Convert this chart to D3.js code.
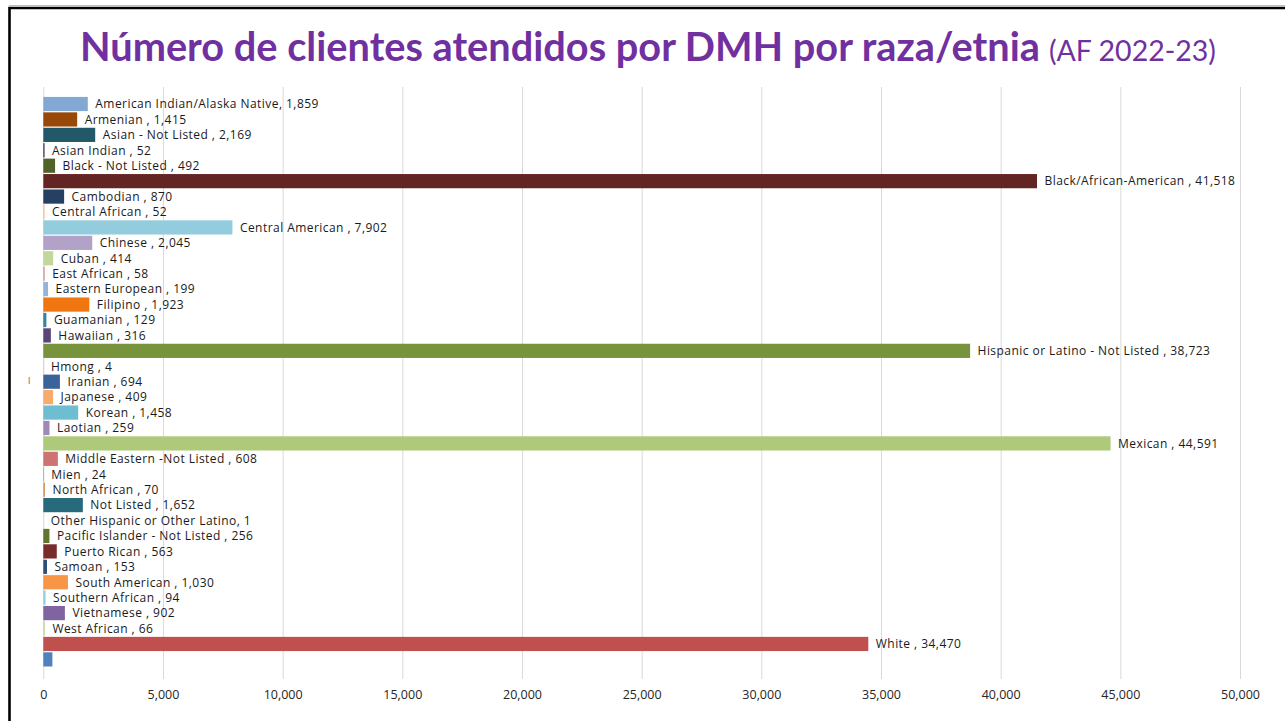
<!DOCTYPE html>
<html>
<head>
<meta charset="utf-8">
<script src="https://cdn.jsdelivr.net/npm/d3@7"></script>
<style>
  html, body { margin: 0; padding: 0; background: #fff; }
  svg { display: block; }
</style>
</head>
<body>
<svg id="chart" width="1285" height="721"></svg>
<script>
// ---------- data ----------
const categories = [
  "American Indian/Alaska Native", "Armenian ", "Asian - Not Listed ", "Asian Indian ",
  "Black - Not Listed ", "Black/African-American ", "Cambodian ", "Central African ",
  "Central American ", "Chinese ", "Cuban ", "East African ", "Eastern European ",
  "Filipino ", "Guamanian ", "Hawaiian ", "Hispanic or Latino - Not Listed ", "Hmong ",
  "Iranian ", "Japanese ", "Korean ", "Laotian ", "Mexican ", "Middle Eastern -Not Listed ",
  "Mien ", "North African ", "Not Listed ", "Other Hispanic or Other Latino", "Pacific Islander - Not Listed ",
  "Puerto Rican ", "Samoan ", "South American ", "Southern African ", "Vietnamese ",
  "West African ", "White ", ""
];
const values = [
  1859, 1415, 2169, 52,
  492, 41518, 870, 52,
  7902, 2045, 414, 58, 199,
  1923, 129, 316, 38723, 4,
  694, 409, 1458, 259, 44591, 608,
  24, 70, 1652, 1, 256,
  563, 153, 1030, 94, 902,
  66, 34470, 380
];
const showLabel = categories.map(c => c !== "");
const barColors = [
  "#84a8d4", "#984807", "#215968", "#3f3151",
  "#4f6228", "#632523", "#254061", "#fac090",
  "#93cddd", "#b3a2c7", "#c3d69b", "#d99694", "#95b3d7",
  "#f0760f", "#36849b", "#5a4578", "#77933c", "#8c3836",
  "#3a6399", "#f9ab6b", "#6fbdd1", "#9f8ab7", "#afc97a", "#cd7371",
  "#729aca", "#d79a62", "#276a7c", "#4d3b62", "#5f7530",
  "#772c2a", "#2c4d75", "#f79646", "#8fd0e0", "#8064a2",
  "#c6d9a0", "#c0504d", "#4f81bd"
];
const xTicks = [0, 5000, 10000, 15000, 20000, 25000, 30000, 35000, 40000, 45000, 50000];
const titleMain = "Número de clientes atendidos por DMH por raza/etnia";
const titleSub = "(AF 2022-23)";

// ---------- layout ----------
const svg = d3.select("#chart");
const x0 = 43.3, x1 = 1240;
const bandTop = 96.3, bandBottom = 667.1;
const gridTop = 87, gridBottom = 679;
const labelFont = "'Open Sans', sans-serif";
const titleFont = "Lato, sans-serif";

const x = d3.scaleLinear().domain([0, 50000]).range([x0, x1]);
const y = d3.scaleBand().domain(d3.range(categories.length)).range([bandTop, bandBottom]).paddingInner(0.08).paddingOuter(0.04);
const fmt = d3.format(",");

// frame
svg.append("path")
  .attr("d", `M9.5,721 L9.5,8 L1285,8`)
  .attr("fill", "none").attr("stroke", "#000").attr("stroke-width", 2.6);
svg.append("line").attr("x1", 9).attr("x2", 1285).attr("y1", 5.5).attr("y2", 5.5)
  .attr("stroke", "#bdbdbd").attr("stroke-width", 1);

// title
const title = svg.append("text").attr("x", 80).attr("y", 61).attr("fill", "#7030a0")
  .style("font-family", titleFont);
const tMain = title.append("tspan").attr("font-weight", 700).attr("font-size", 39).text(titleMain);
const tSub = title.append("tspan").attr("font-weight", 400).attr("font-size", 28).attr("dx", 9).text(titleSub);
(function fit() {
  const w = tMain.node().getComputedTextLength();
  tMain.attr("font-size", 39 * (1040 - 80) / w);
  const w2 = tSub.node().getComputedTextLength();
  tSub.attr("font-size", 28 * (1217 - 1050) / w2);
})();

// grid + axis
const xAxis = d3.axisBottom(x).tickValues(xTicks).tickFormat(fmt).tickSize(-(gridBottom - gridTop)).tickPadding(10);
const gAxis = svg.append("g").attr("transform", `translate(0,${gridBottom})`).call(xAxis);
gAxis.select(".domain").remove();
gAxis.selectAll(".tick line").attr("stroke", "#d9d9d9").attr("stroke-width", 1);
gAxis.selectAll(".tick text").attr("fill", "#262626")
  .style("font-size", "12.5px").style("font-family", labelFont).attr("dy", "0.8em");

// bars
svg.append("g").selectAll("rect").data(values).join("rect")
  .attr("x", x(0))
  .attr("y", (d, i) => y(i))
  .attr("width", d => Math.max(0, x(d) - x(0)))
  .attr("height", y.bandwidth())
  .attr("fill", (d, i) => barColors[i]);

// labels
svg.append("g").selectAll("text").data(values).join("text")
  .attr("display", (d, i) => showLabel[i] ? null : "none")
  .attr("x", d => x(d) + 7.5)
  .attr("y", (d, i) => y(i) + y.bandwidth() / 2)
  .attr("dy", "0.36em")
  .style("font-size", "12px")
  .style("letter-spacing", "0.45px")
  .style("font-family", labelFont)
  .attr("fill", "#1a1a1a")
  .text((d, i) => categories[i] + ", " + fmt(d));

// stray axis mark on left
svg.append("text").attr("x", 28).attr("y", 384)
  .style("font-size", "9px").style("font-family", labelFont).attr("fill", "#595959").text("l");
</script>
</body>
</html>
